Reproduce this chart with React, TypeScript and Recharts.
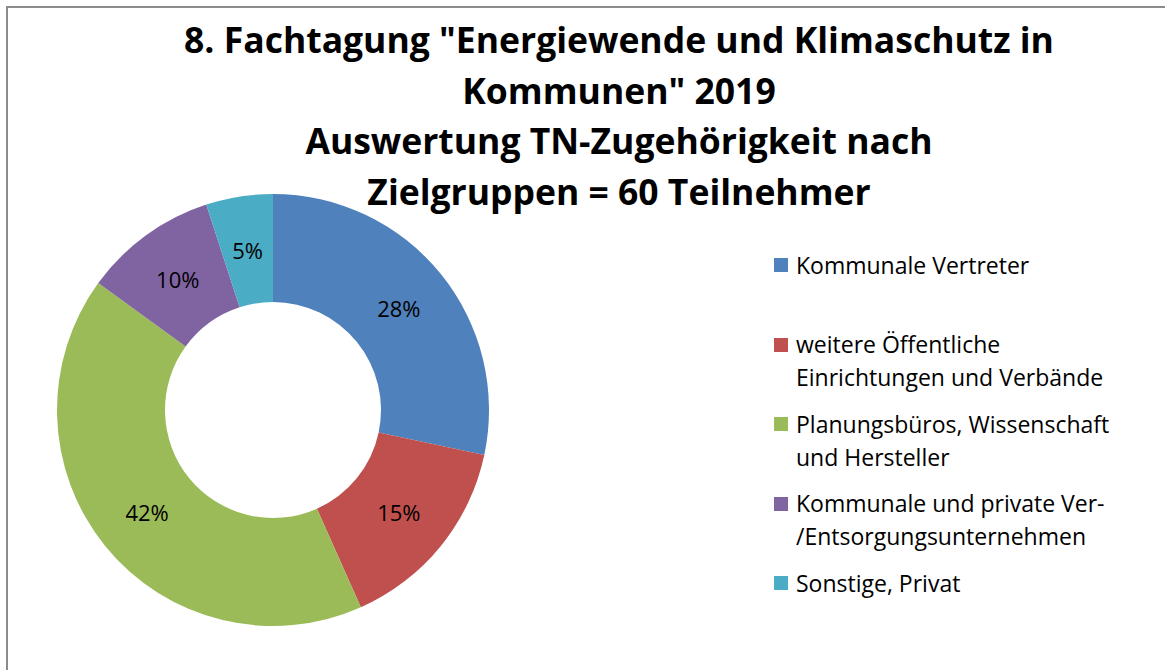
import React from "react";
import { Cell, Legend, Pie, PieChart } from "recharts";

const groups = [
  "Kommunale Vertreter",
  "weitere Öffentliche Einrichtungen und Verbände",
  "Planungsbüros, Wissenschaft und Hersteller",
  "Kommunale und private Ver-/Entsorgungsunternehmen",
  "Sonstige, Privat",
];
// legend lines as they wrap in the original
const legendLines = [
  ["Kommunale Vertreter"],
  ["weitere Öffentliche", "Einrichtungen und Verbände"],
  ["Planungsbüros, Wissenschaft", "und Hersteller"],
  ["Kommunale und private Ver-", "/Entsorgungsunternehmen"],
  ["Sonstige, Privat"],
];
const participants = [17, 9, 25, 6, 3];
const colors = ["#4F81BD", "#C0504D", "#9BBB59", "#8064A2", "#4BACC6"];
const titleLines = [
  '8. Fachtagung "Energiewende und Klimaschutz in',
  'Kommunen" 2019',
  "Auswertung TN-Zugehörigkeit nach",
  "Zielgruppen = 60 Teilnehmer",
];

const FONT = "'Open Sans', sans-serif";
const RAD = Math.PI / 180;

const data = groups.map((name, i) => ({ name, value: participants[i] }));

function renderLabel(props: any) {
  const { cx, cy, midAngle, innerRadius, outerRadius, percent } = props;
  const r = (innerRadius + outerRadius) / 2;
  const x = cx + r * Math.cos(-midAngle * RAD);
  const y = cy + r * Math.sin(-midAngle * RAD);
  return (
    <text
      x={x}
      y={y}
      textAnchor="middle"
      dominantBaseline="central"
      fill="#000"
      fontSize={22}
      fontFamily={FONT}
    >
      {Math.round(percent * 100) + "%"}
    </text>
  );
}

function LegendBox() {
  return (
    <div style={{ fontFamily: FONT, fontSize: 23, color: "#000" }}>
      {legendLines.map((lines, i) => (
        <div
          key={i}
          style={{ position: "absolute", left: 0, top: i * 79.5, whiteSpace: "nowrap" }}
        >
          <div
            style={{
              position: "absolute",
              left: 0,
              top: 9.5,
              width: 14,
              height: 14,
              background: colors[i],
            }}
          />
          {lines.map((t, j) => (
            <div key={j} style={{ marginLeft: 22, height: 33, lineHeight: "33px" }}>
              {t}
            </div>
          ))}
        </div>
      ))}
    </div>
  );
}

export default function App() {
  return (
    <div
      style={{
        position: "absolute",
        left: 0,
        top: 0,
        width: 1165,
        height: 670,
        overflow: "hidden",
        background: "#fff",
      }}
    >
      <div
        style={{
          position: "absolute",
          left: 6,
          top: 6,
          width: 1200,
          height: 720,
          border: "2px solid #8c8c8c",
        }}
      />
      <div
        style={{
          position: "absolute",
          left: 0,
          width: 1238,
          top: 14,
          textAlign: "center",
          fontFamily: FONT,
          fontWeight: 700,
          fontSize: 35.5,
          lineHeight: "50.5px",
          color: "#000",
        }}
      >
        {titleLines.map((t, i) => (
          <div key={i}>{t}</div>
        ))}
      </div>
      <PieChart
        width={1165}
        height={670}
        margin={{ top: 0, right: 0, bottom: 0, left: 0 }}
        style={{ position: "absolute", left: 0, top: 0 }}
      >
        <Pie
          data={data}
          dataKey="value"
          nameKey="name"
          cx={273}
          cy={410}
          innerRadius={108}
          outerRadius={216}
          startAngle={90}
          endAngle={-270}
          stroke="none"
          label={renderLabel}
          labelLine={false}
          isAnimationActive={false}
        >
          {data.map((d, i) => (
            <Cell key={d.name} fill={colors[i]} />
          ))}
        </Pie>
        <Legend
          content={() => <LegendBox />}
          wrapperStyle={{ position: "absolute", left: 774, top: 248.5, width: 380 }}
        />
      </PieChart>
    </div>
  );
}
